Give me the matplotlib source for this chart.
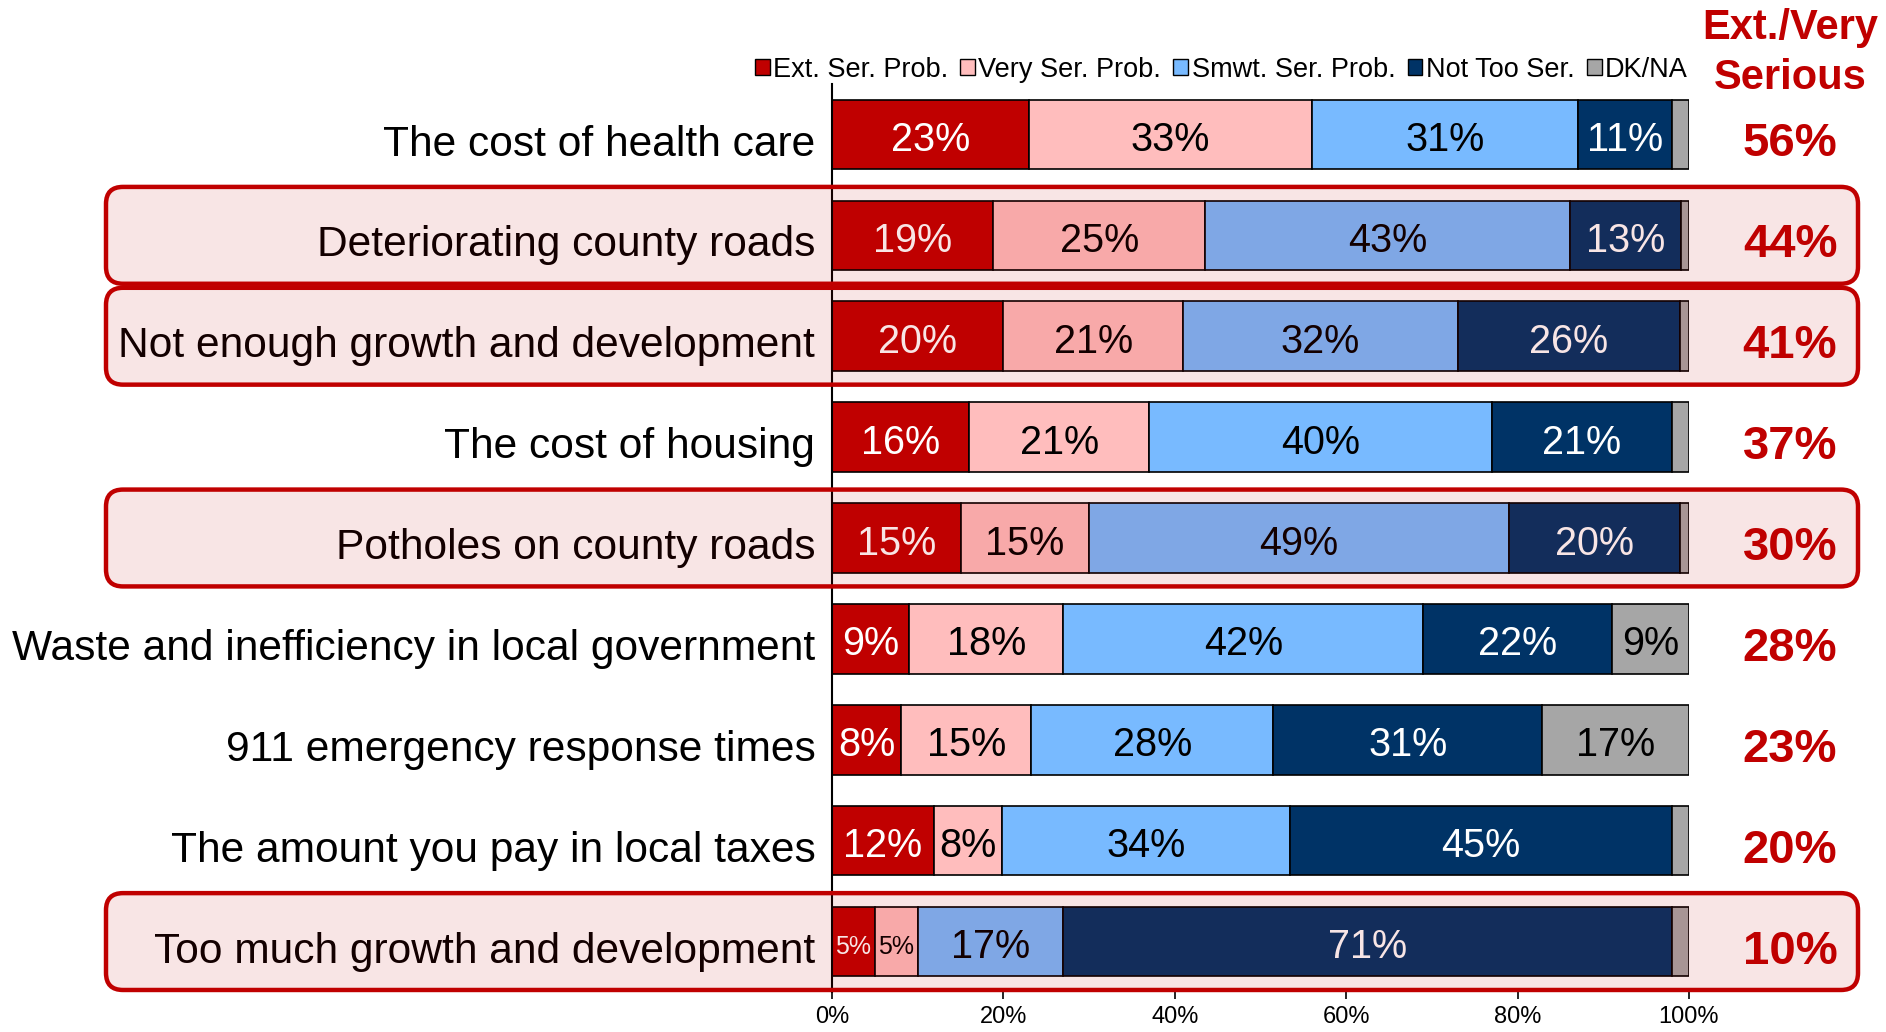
import matplotlib
matplotlib.use("Agg")
import matplotlib.pyplot as plt
from matplotlib.patches import FancyBboxPatch, Patch
from matplotlib.transforms import offset_copy, ScaledTranslation
import numpy as np

plt.rcParams['font.family'] = ['Liberation Sans', 'DejaVu Sans']

categories = [
    "The cost of health care",
    "Deteriorating county roads",
    "Not enough growth and development",
    "The cost of housing",
    "Potholes on county roads",
    "Waste and inefficiency in local government",
    "911 emergency response times",
    "The amount you pay in local taxes",
    "Too much growth and development",
]
ext_ser = [23, 19, 20, 16, 15, 9, 8, 12, 5]
very_ser = [33, 25, 21, 21, 15, 18, 15, 8, 5]
smwt_ser = [31, 43, 32, 40, 49, 42, 28, 34, 17]
not_too = [11, 13, 26, 21, 20, 22, 31, 45, 71]
dk_na = [2, 1, 1, 2, 1, 9, 17, 2, 2]
ext_very = [56, 44, 41, 37, 30, 28, 23, 20, 10]
highlighted = [False, True, True, False, True, False, False, False, True]

series_names = ["Ext. Ser. Prob.", "Very Ser. Prob.", "Smwt. Ser. Prob.", "Not Too Ser.", "DK/NA"]
series_vals = [ext_ser, very_ser, smwt_ser, not_too, dk_na]
colors = ["#C00000", "#FFBDBD", "#78BAFF", "#003366", "#A6A6A6"]
text_colors = ["white", "black", "black", "white", "black"]
x_ticks = [0, 20, 40, 60, 80, 100]

W, H = 1886, 1032
fig = plt.figure(figsize=(W / 100, H / 100), dpi=100)
ax = fig.add_axes([832 / W, 40 / H, 857 / W, 908 / H])

n = len(categories)
y = np.arange(n)
data = np.array(series_vals, dtype=float)
totals = data.sum(axis=0)
pct = data / totals * 100.0  # 100% stacked, like the original
left = np.zeros(n)
lab_tr = offset_copy(ax.transData, fig=fig, x=0, y=-4, units="points")
for k in range(len(series_names)):
    ax.barh(y, pct[k], left=left, height=0.69, color=colors[k],
            edgecolor="black", linewidth=1.2, zorder=2)
    for i in range(n):
        v = data[k][i]
        if v >= 5:
            fs = 18 if v <= 5 else 28.5
            ax.text(left[i] + pct[k][i] / 2, y[i], f"{int(v)}%", ha="center",
                    va="center", color=text_colors[k], fontsize=fs, zorder=3,
                    transform=lab_tr)
    left += pct[k]

ax.set_xlim(0, 100)
ax.set_ylim(n - 0.5, -0.5)
ax.set_yticks(y)
ax.set_yticklabels(categories, fontsize=30.6)
ax.tick_params(axis="y", length=0, pad=12)
for t in ax.get_yticklabels():
    t.set_transform(t.get_transform() + ScaledTranslation(0, -4 / 72, fig.dpi_scale_trans))
ax.set_xticks(x_ticks)
ax.set_xticklabels([f"{t}%" for t in x_ticks], fontsize=17)
ax.tick_params(axis="x", length=5, width=1.2, pad=5, direction="out")
for s in ["top", "right", "bottom"]:
    ax.spines[s].set_visible(False)
ax.spines["left"].set_linewidth(1.5)

# Right-hand column
col_x = 1790 / W
fig.text(col_x, 1 - 53 / H, "Ext./Very\nSerious", ha="center", va="center",
         fontsize=30, fontweight="bold", color="#C00000", linespacing=1.35)
for i in range(n):
    disp = ax.transData.transform((0, y[i]))
    fy = fig.transFigure.inverted().transform(disp)[1]
    fig.text(col_x, fy - 10 / H, f"{ext_very[i]}%", ha="center", va="center",
             fontsize=34, fontweight="bold", color="#C00000")

# Legend
handles = [Patch(facecolor=c, edgecolor="black", linewidth=1.0) for c in colors]
leg = ax.legend(handles, series_names, ncol=5, loc="lower right",
                bbox_to_anchor=(1.0, 1.0), frameon=False, fontsize=19.5,
                handlelength=0.55, handleheight=0.55, handletextpad=0.12,
                columnspacing=0.45, borderaxespad=0.05, borderpad=0.0)

# Highlight boxes (overlay)
inv = fig.transFigure.inverted()
x0, x1 = 106 / W, 1858 / W
for i in range(n):
    if not highlighted[i]:
        continue
    ytop = inv.transform(ax.transData.transform((0, y[i] - 0.48)))[1]
    ybot = inv.transform(ax.transData.transform((0, y[i] + 0.48)))[1]
    box = FancyBboxPatch((x0, ybot), x1 - x0, ytop - ybot,
                         boxstyle="round,pad=0,rounding_size=0.009",
                         mutation_aspect=W / H, transform=fig.transFigure,
                         facecolor=(0.75, 0, 0, 0.1), edgecolor="#C00000",
                         linewidth=3.2, zorder=10)
    fig.add_artist(box)

fig.savefig("out.png", dpi=100)
